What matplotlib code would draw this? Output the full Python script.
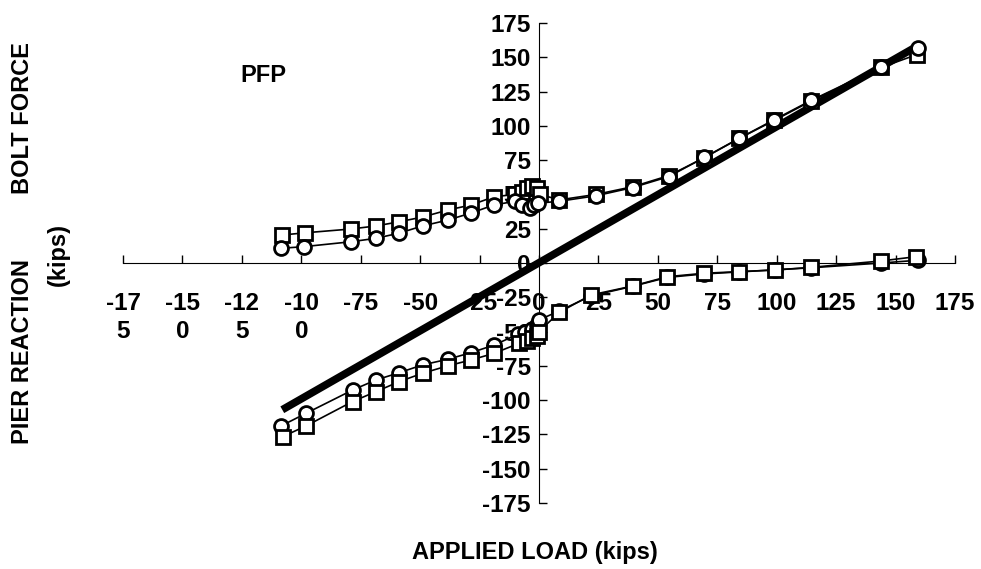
import matplotlib
matplotlib.use("Agg")
import matplotlib.pyplot as plt

plt.rcParams['font.family'] = ['Liberation Sans', 'DejaVu Sans']
plt.rcParams['font.weight'] = 'bold'

# bolt force, squares
bolt_sq_x = [-108, -98.5, -79, -68.6, -59, -49, -38.4, -28.6, -18.9, -10, -7, -5, -3, -1, 0.5,
             8.5, 24, 39.4, 54.6, 69.6, 84.3, 99, 114.4, 144, 159]
bolt_sq_y = [20.4, 22, 24.8, 27, 30, 33.5, 38.6, 42.3, 48.3, 50, 52, 55, 56, 55, 50,
             46, 50, 55.6, 63.7, 76.8, 90.9, 104, 118, 142.6, 152]
# bolt force, circles
bolt_ci_x = [-108.5, -99, -79, -68.6, -59, -49, -38.4, -28.6, -19, -10, -7, -4, -2, -0.5,
             8.5, 24, 39.4, 54.6, 69.6, 84.3, 99, 114.4, 144, 159.3]
bolt_ci_y = [10.7, 11.9, 15.5, 18, 21.7, 27, 31.3, 36.4, 42.3, 45, 42, 40, 42, 43.6,
             45, 49, 55, 63, 77, 91, 104.5, 118.5, 143, 157]
# pier reaction, circles
pier_ci_x = [-108.5, -98, -78.4, -68.6, -58.8, -49, -38.4, -28.6, -18.8, -9, -6, -3, -1, 0,
             8.5, 21.9, 39.4, 54, 69.3, 84.3, 99.3, 114.4, 144, 159.5]
pier_ci_y = [-118.8, -109.6, -92.6, -85.3, -80, -74.3, -70.2, -65.4, -59.8, -52, -50, -48, -45, -41.5,
             -35, -24, -17, -10.5, -8, -6.5, -5, -3.5, 0, 2]
# pier reaction, squares
pier_sq_x = [-107.8, -98, -78.4, -68.6, -58.8, -49, -38.4, -28.6, -18.8, -8.3, -5, -3, -1, 0,
             8.5, 21.9, 39.4, 54, 69.3, 84.3, 99.3, 114.4, 144, 158.6]
pier_sq_y = [-126.6, -118.8, -101, -93.8, -86.5, -80.4, -75, -70.7, -65.8, -58.5, -57, -55, -53, -50,
             -36, -23.3, -16.8, -10, -7.5, -6.3, -5.1, -3.2, 1.5, 4.6]
# applied load line
load_x = [-108, 158]
load_y = [-107, 157]

ticks = [-175, -150, -125, -100, -75, -50, -25, 0, 25, 50, 75, 100, 125, 150, 175]
xtick_labels = ['-17\n5', '-15\n0', '-12\n5', '-10\n0', '-75', '-50', '-25', '0',
                '25', '50', '75', '100', '125', '150', '175']

fig = plt.figure(figsize=(9.81, 5.69), dpi=100)
ax = fig.add_axes([0.1254, 0.116, 0.8481, 0.8436])

ax.plot(load_x, load_y, color='black', lw=5.5, solid_capstyle='butt', zorder=2)
mk = dict(color='black', lw=1.2, markerfacecolor='white', markeredgecolor='black',
          markeredgewidth=2, markersize=10, zorder=3)
ax.plot(bolt_sq_x, bolt_sq_y, marker='s', **mk)
ax.plot(bolt_ci_x, bolt_ci_y, marker='o', **mk)
ax.plot(pier_ci_x, pier_ci_y, marker='o', **mk)
ax.plot(pier_sq_x, pier_sq_y, marker='s', **mk)

ax.set_xlim(-175, 175)
ax.set_ylim(-175, 175)
ax.spines['left'].set_position(('data', 0))
ax.spines['bottom'].set_position(('data', 0))
ax.spines['top'].set_visible(False)
ax.spines['right'].set_visible(False)
ax.set_xticks(ticks)
ax.set_xticklabels(xtick_labels, fontsize=17.5, linespacing=1.25)
ax.set_yticks(ticks)
ax.set_yticklabels([str(t) for t in ticks], fontsize=17.5)
ax.tick_params(axis='x', direction='in', length=6, width=1, pad=21)
ax.tick_params(axis='y', direction='in', length=6, width=1, pad=6)

fig.text(0.0234, 1 - 118 / 569, 'BOLT FORCE', rotation=90, ha='center', va='center', fontsize=17)
fig.text(0.059, 1 - 255 / 569, '(kips)', rotation=90, ha='center', va='center', fontsize=17)
fig.text(0.0234, 1 - 351 / 569, 'PIER REACTION', rotation=90, ha='center', va='center', fontsize=17)
fig.text(535 / 981, 1 - 552 / 569, 'APPLIED LOAD (kips)', ha='center', va='center', fontsize=17)
fig.text(263 / 981, 1 - 75 / 569, 'PFP', ha='center', va='center', fontsize=17)

fig.savefig('out.png', dpi=100)
